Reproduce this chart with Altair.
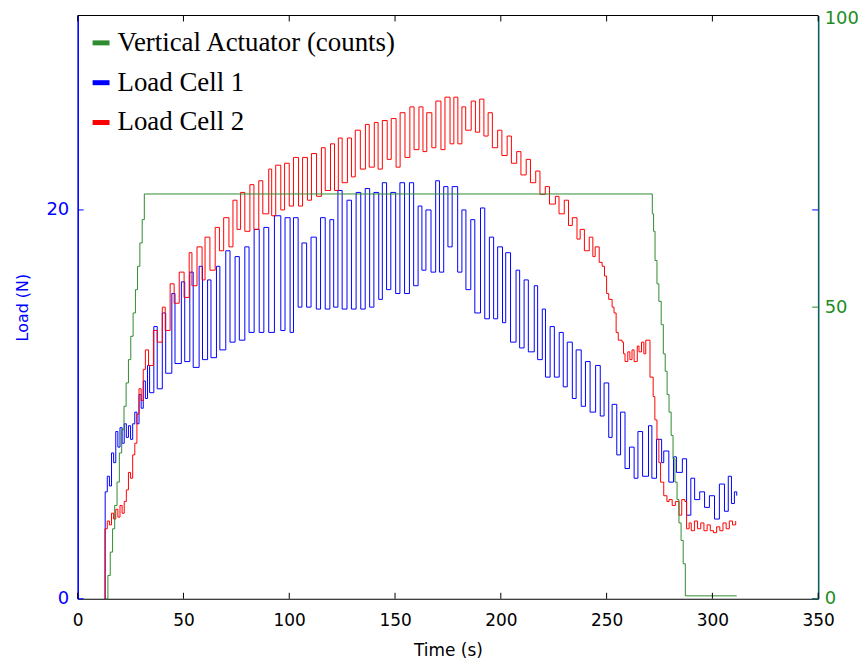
import altair as alt
import pandas as pd

SERIES = ["Vertical Actuator (counts)", "Load Cell 1", "Load Cell 2"]
COLORS = ["#2e8b2e", "#0000ff", "#ff0000"]

# Vertical actuator (right axis, counts): [time s, counts]
actuator = [
    [13.2, 0], [14.3, 4], [15.4, 8], [16.5, 12], [17.5, 16], [18.6, 20], [19.7, 25],
    [20.8, 29], [21.9, 33], [22.9, 37], [24.0, 41], [25.1, 45], [26.2, 49], [27.3, 53],
    [28.3, 57], [29.4, 61], [30.5, 65], [31.5, 69.4], [271.0, 69.4], [271.6, 66],
    [272.2, 63], [272.9, 58], [273.8, 54], [274.7, 51], [275.8, 47], [276.8, 42],
    [277.7, 39], [278.6, 35], [279.5, 32], [280.5, 28], [281.4, 24], [282.3, 20],
    [283.3, 17], [284.2, 13], [285.2, 10], [286.2, 6], [287.2, 0.5], [311.5, 0.5],
]

# Load Cell 1 (left axis, N): [time s, load]
load_cell_1 = [
    [12.7, 0], [13.0, 5.5], [14, 6.3], [15, 5.8], [16, 7.5], [17, 7.0], [18, 8.6],
    [19, 7.8], [20, 8.8], [21, 8.0], [22, 9.0], [23, 8.3], [24, 8.9], [25, 8.2],
    [26, 9.0], [27, 9.6], [28, 9.0], [29, 10.5], [30, 9.8], [31, 11.2], [32, 10.3],
    [33, 12.0], [34, 10.6],
    [36, 14.0], [37.6, 10.8], [40, 14.7], [41.6, 11.6], [44.5, 15.7], [46, 12.1],
    [49, 16.3], [50.6, 12.2], [53, 16.8], [54.6, 11.9], [57.4, 17.1], [59, 12.3],
    [61.4, 16.4], [63, 12.4], [65.6, 17.1], [67.2, 12.8], [70, 17.9], [72, 13.2],
    [74.4, 17.6], [76.4, 13.3], [79, 18.1], [81, 13.7], [83.4, 19.0], [85.8, 13.7],
    [88, 19.1], [90.3, 13.7], [93, 19.7], [96, 13.8], [98, 19.6], [100.4, 13.7],
    [102, 19.6], [104.2, 15.0], [106, 18.3], [108.2, 15.0], [110.3, 18.6], [112.8, 14.9],
    [114.8, 19.6], [117, 14.9], [119.2, 19.5], [121, 15.0], [123, 21.0], [125, 14.9],
    [127.3, 20.5], [129.4, 14.9], [131.6, 20.9], [133.8, 14.9], [135.9, 21.1], [138, 15.0],
    [140, 20.9], [142.3, 15.4], [144, 21.4], [146, 15.9], [148, 20.9], [150.3, 15.7],
    [152.3, 21.4], [154.5, 15.7], [156.8, 21.4], [158.8, 16.1], [160.9, 20.2], [162.7, 16.9],
    [164.6, 20.0], [167, 16.8], [169.2, 21.5], [171, 16.8], [173, 21.2], [175, 18.1],
    [177, 21.2], [179.6, 16.8], [181.6, 20.0], [183.5, 15.9], [185.8, 19.5], [187.7, 14.7],
    [190.4, 20.1], [192.4, 14.4], [194.6, 18.6], [196.6, 14.4], [198.5, 18.1], [200.8, 14.2],
    [202.3, 17.8], [204.6, 13.2], [207.2, 16.9], [208.9, 12.9], [211, 16.4], [213, 12.7],
    [215.8, 16.1], [217.4, 12.3], [219.6, 14.9], [221.1, 11.4], [223.3, 14.0], [225.3, 11.4],
    [227.6, 13.7], [229.5, 10.9], [231.4, 13.2], [233.8, 10.3], [235.6, 12.8], [238, 9.9],
    [240, 12.2], [242.2, 9.6], [244.8, 12.0], [247, 9.4], [248.8, 11.1], [251, 8.3],
    [252.6, 10.0], [254.8, 7.4], [256.6, 9.6], [258.7, 6.7], [260.8, 7.8], [263, 6.2],
    [264.8, 8.6], [267, 6.3], [269.8, 8.9], [271.4, 6.2], [273.6, 8.2], [276, 7.0],
    [277, 7.6], [279.4, 6.0], [281.6, 7.3], [283, 6.5], [285.8, 7.2], [287.8, 4.3],
    [289.8, 6.2], [291.6, 5.1], [294, 5.5], [296.3, 4.7], [298.6, 5.3], [301, 4.1],
    [303.3, 5.9], [305.7, 4.5], [307.5, 6.3], [309, 4.9], [310.4, 5.5], [311.5, 5.3],
]

# Load Cell 2 (left axis, N): [time s, load]
load_cell_2 = [
    [12.7, 0], [12.9, 3.6], [14, 4.0], [15, 3.8], [16, 4.4], [17, 4.1], [18, 4.6],
    [19, 4.2], [20, 4.8], [21, 4.4], [22, 5.0], [23, 5.6], [24, 6.5], [25, 6.2],
    [26, 7.4], [27, 8.0], [28, 9.5], [29, 10.8], [30, 10.2], [31, 11.8], [32, 12.8],
    [33.5, 12.0],
    [35.8, 13.8], [37.6, 13.2], [40, 15.0], [41.4, 13.8], [43.7, 16.2], [45.6, 15.2],
    [48, 16.8], [50.3, 15.5], [52.7, 17.8], [54, 16.1], [56.4, 18.1], [58.8, 16.4],
    [60.2, 18.6], [62.5, 16.9], [65, 19.1], [67, 17.9], [69, 19.6], [71.5, 18.1],
    [73.4, 20.5], [75.3, 19.0], [77, 20.9], [79, 18.9], [81.4, 21.3], [83.3, 19.0],
    [85.6, 21.5], [87.5, 19.8], [90.3, 22.1], [91.7, 19.7], [93.6, 22.3], [96, 20.0],
    [97.8, 22.4], [100, 20.2], [102, 22.7], [104.4, 20.2], [106.3, 22.7], [108.6, 20.5],
    [110.5, 22.9], [112.9, 20.7], [115.2, 23.2], [117, 21.0], [119.5, 23.4], [121.4, 21.0],
    [123.2, 23.7], [125, 21.4], [127.5, 23.7], [129.4, 21.7], [131.2, 24.1], [133.6, 22.1],
    [136, 24.4], [137.8, 22.2], [140.2, 24.5], [142, 22.1], [144, 24.6], [146.3, 22.6],
    [148.2, 24.7], [150.5, 22.2], [152.4, 25.0], [154.7, 22.7], [157, 25.3], [159, 23.1],
    [161.3, 25.3], [163.2, 23.0], [165, 25.0], [167.4, 23.2], [169.3, 25.6], [171.7, 23.1],
    [173.6, 25.8], [176, 23.4], [177.8, 25.8], [179.7, 23.4], [181.6, 25.3], [183.4, 24.1],
    [186, 25.6], [188, 24.0], [190, 25.7], [192, 23.8], [194, 25.0], [196, 23.2],
    [198.5, 24.1], [200.5, 22.8], [203, 23.8], [205, 22.4], [207.5, 23.0], [209.5, 21.8],
    [212, 22.6], [214, 21.4], [216.5, 22.0], [218.5, 20.8], [221, 21.2], [223, 20.3],
    [225.8, 20.7], [227.5, 19.8], [230, 20.5], [232, 19.2], [233.8, 19.6], [236, 18.5],
    [237.5, 19.0], [239.5, 17.9], [241.8, 18.6], [243.5, 17.6], [244.6, 18.1], [246.5, 17.3],
    [247.9, 17.1], [249, 16.6], [250, 15.7], [251, 15.4], [252.6, 15.0], [253.5, 14.7],
    [254.5, 13.7], [255.5, 13.3], [257.3, 13.2], [258, 12.6], [258.7, 12.2], [260, 12.7],
    [261, 12.3], [262, 12.8], [263, 12.2], [264.5, 13.0], [265.3, 12.7], [266.5, 13.2],
    [267.6, 12.6], [268.5, 13.3], [270.5, 11.4], [272, 10.4], [272.8, 9.2], [273.8, 8.2],
    [274.7, 7.0], [275.5, 6.0], [277, 5.3], [278.5, 5.0], [279.5, 5.1], [281, 4.8],
    [282.5, 5.0], [284.2, 4.3], [285.5, 5.1], [287, 5.0], [287.8, 3.6], [289, 3.9],
    [290, 3.5], [291.5, 4.0], [293, 3.6], [294.5, 3.9], [296, 3.5], [297.5, 3.8],
    [299, 3.5], [300.5, 3.4], [302, 3.7], [303.5, 3.5], [305, 3.9], [306.5, 3.6],
    [308, 4.0], [309.5, 3.8], [311, 4.0],
]

x_ticks = [0, 50, 100, 150, 200, 250, 300, 350]
left_ticks = [0, 20]
right_ticks = [0, 50, 100]

W, H = 744, 586
TICK = 6


def frame(pairs, name):
    return pd.DataFrame({"t": [p[0] for p in pairs], "v": [p[1] for p in pairs], "series": name})


act_df = frame(actuator, SERIES[0])
load_df = pd.concat([frame(load_cell_1, SERIES[1]), frame(load_cell_2, SERIES[2])], ignore_index=True)

x_scale = alt.Scale(domain=[0, 350], nice=False, zero=False)
yl_scale = alt.Scale(domain=[0, 30], nice=False)
yr_scale = alt.Scale(domain=[0, 100], nice=False)
color_scale = alt.Scale(domain=SERIES, range=COLORS)

x_axis = alt.Axis(values=x_ticks, title="Time (s)", ticks=False, grid=False,
                  domainColor="black", domainWidth=1.2, labelColor="black",
                  labelFont="DejaVu Sans", labelFontSize=17, labelPadding=14,
                  labelFlush=False, titleFont="DejaVu Sans", titleFontSize=17,
                  titleFontWeight="normal", titleColor="black", titlePadding=14)
x_enc = alt.X("t:Q", scale=x_scale, axis=x_axis)

legend = alt.Legend(title=None, orient="none", legendX=10, legendY=14, symbolType="stroke",
                    symbolStrokeWidth=5, symbolSize=289, labelFont="Liberation Serif",
                    labelFontSize=27, labelColor="black", rowPadding=12, labelOffset=3,
                    labelLimit=500, padding=0)

loads = alt.Chart(load_df).mark_line(strokeWidth=1, interpolate="step-after").encode(
    x=x_enc,
    y=alt.Y("v:Q", scale=yl_scale, axis=alt.Axis(
        values=left_ticks, orient="left", title="Load (N)", ticks=False, grid=False,
        domainColor="#0000ff", domainWidth=1.6, labelColor="#0000ff", labelFont="DejaVu Sans",
        labelFontSize=18, labelPadding=9, titleFont="DejaVu Sans", titleFontSize=16,
        titleFontWeight="normal", titleColor="#0000ff", titlePadding=16)),
    color=alt.Color("series:N", scale=color_scale, legend=legend),
    detail="series:N",
)

act = alt.Chart(act_df).mark_line(strokeWidth=1, interpolate="step-after").encode(
    x=x_enc,
    y=alt.Y("v:Q", scale=yr_scale, axis=alt.Axis(
        values=right_ticks, orient="right", title=None, ticks=False, grid=False,
        domainColor="#0f5f5f", domainWidth=1.6, labelColor="#1e8c1e", labelFont="DejaVu Sans",
        labelFontSize=18, labelPadding=6,
        labelOffset={"condition": {"test": "datum.value == 100", "value": 3}, "value": 0})),
    color=alt.Color("series:N", scale=color_scale, legend=legend),
)

xt_df = pd.DataFrame({"t": x_ticks})
xt_bottom = alt.Chart(xt_df).mark_rule(color="black", strokeWidth=1).encode(
    x=x_enc, y=alt.value(H), y2=alt.value(H - TICK))
xt_top = alt.Chart(xt_df).mark_rule(color="black", strokeWidth=1).encode(
    x=x_enc, y=alt.value(0), y2=alt.value(TICK))

lt_df = pd.DataFrame({"v": left_ticks})
lt_left = alt.Chart(lt_df).mark_rule(color="#0000ff", strokeWidth=1).encode(
    y=alt.Y("v:Q", scale=yl_scale, axis=None), x=alt.value(0), x2=alt.value(TICK))
lt_right = alt.Chart(lt_df).mark_rule(color="#0000ff", strokeWidth=1).encode(
    y=alt.Y("v:Q", scale=yl_scale, axis=None), x=alt.value(W), x2=alt.value(W - TICK))

rt_df = pd.DataFrame({"v": right_ticks})
rt_right = alt.Chart(rt_df).mark_rule(color="#1e8c1e", strokeWidth=1).encode(
    y=alt.Y("v:Q", scale=yr_scale, axis=None), x=alt.value(W), x2=alt.value(W - TICK))

top_border = alt.Chart(pd.DataFrame({"k": [0]})).mark_rule(color="black", strokeWidth=1.2).encode(
    x=alt.value(0), x2=alt.value(W), y=alt.value(0))

chart = alt.layer(
    loads, act, xt_bottom, xt_top, lt_left, lt_right, rt_right, top_border
).resolve_scale(y="independent").properties(
    width=W, height=H,
    autosize=alt.AutoSizeParams(type="none"),
    padding={"left": 70, "top": 6, "right": 40, "bottom": 63},
).configure_view(stroke=None)

chart.save("out.html", embed_options={"renderer": "svg", "actions": False})
